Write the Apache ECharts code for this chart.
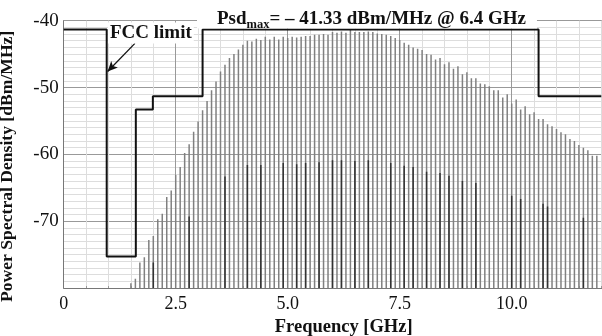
<!DOCTYPE html>
<html>
<head>
<meta charset="utf-8">
<script src="https://cdn.jsdelivr.net/npm/echarts@6/dist/echarts.min.js"></script>
<style>html,body{margin:0;padding:0;background:#fff}#c{width:602px;height:336px}</style>
</head>
<body>
<div id="c"></div>
<script>
// Spectral line frequencies [GHz]
const freqs = [1.5,1.6,1.7,1.8,1.9,2.0,2.1,2.2,2.3,2.4,2.5,2.6,2.7,2.8,2.9,3.0,3.1,3.2,3.3,3.4,3.5,3.6,3.7,3.8,3.9,
  4.0,4.1,4.2,4.3,4.4,4.5,4.6,4.7,4.8,4.9,5.0,5.1,5.2,5.3,5.4,5.5,5.6,5.7,5.8,5.9,6.0,6.1,6.2,6.3,6.4,6.5,6.6,6.7,6.8,6.9,
  7.0,7.1,7.2,7.3,7.4,7.5,7.6,7.7,7.8,7.9,8.0,8.1,8.2,8.3,8.4,8.5,8.6,8.7,8.8,8.9,9.0,9.1,9.2,9.3,9.4,9.5,9.6,9.7,9.8,9.9,
  10.0,10.1,10.2,10.3,10.4,10.5,10.6,10.7,10.8,10.9,11.0,11.1,11.2,11.3,11.4,11.5,11.6,11.7,11.8,11.9];
// PSD of main spectrum [dBm/MHz]
const psd = [-79.3,-78.6,-76.2,-75.4,-72.8,-72.2,-69.7,-68.9,-66.4,-65.4,-63.1,-61.9,-59.8,-58.5,-56.6,-55.1,-53.4,-52.0,-50.4,-49.1,-47.6,-46.6,-45.6,-45.0,-44.3,
  -43.6,-43.0,-43.1,-42.7,-42.9,-42.4,-42.8,-42.4,-42.8,-42.4,-42.6,-42.4,-42.5,-42.4,-42.3,-42.3,-42.1,-42.1,-42.0,-42.1,-41.7,-41.8,-41.6,-41.8,-41.33,-41.7,-41.7,-41.7,-41.6,-41.7,
  -41.9,-42.0,-42.1,-42.3,-42.6,-42.9,-43.3,-43.6,-44.0,-44.2,-44.4,-45.0,-45.1,-45.8,-45.6,-46.5,-46.2,-47.2,-46.8,-48.0,-47.7,-48.6,-48.6,-49.4,-49.5,-49.8,-50.4,-50.4,-51.5,-51.0,
  -52.4,-51.8,-53.3,-52.8,-54.0,-53.7,-54.7,-54.7,-55.5,-55.8,-56.2,-56.7,-57.0,-57.7,-58.0,-58.6,-59.0,-59.4,-60.2,-60.2];
// Second (darker) spectral lines
const freqs2 = [2.0,2.8,3.6,4.1,4.4,4.9,5.2,5.4,5.7,6.0,6.2,6.5,6.8,7.3,7.6,7.8,8.1,8.4,8.6,8.9,9.2,10.0,10.2,10.7,10.8,11.6];
const psd2 = [-76.2,-69.3,-63.3,-61.6,-61.6,-61.3,-61.5,-61.3,-61.2,-60.9,-60.9,-61.0,-60.9,-61.3,-61.7,-61.9,-62.6,-62.8,-63.2,-64.0,-64.3,-66.2,-66.7,-67.4,-67.8,-69.5];
// FCC mask
const fccEdges = [0, 0.96, 1.61, 1.99, 3.1, 10.6, 12];
const fccLevels = [-41.3, -75.3, -53.3, -51.3, -41.3, -51.3, -51.3];
// Axes
const yMin = -80, yMax = -40, yStep = 10;
const xMin = 0, xMax = 12.5, xStep = 2.5;
const xTickLabels = ['0', '2.5', '5.0', '7.5', '10.0'];

const FONT = '"Liberation Serif", "Times New Roman", serif';
const chart = echarts.init(document.getElementById('c'), null, {renderer: 'canvas'});

function stems(color, w) {
  return function (params, api) {
    const x = api.value(0), v = api.value(1);
    const p0 = api.coord([x, yMin]);
    const p1 = api.coord([x, v]);
    return {type: 'line', shape: {x1: p0[0], y1: p0[1], x2: p1[0], y2: p1[1]},
      style: {stroke: color, lineWidth: w}};
  };
}

chart.setOption({
  animation: false,
  grid: {left: 63.7, top: 20.7, right: -21.7, bottom: 48, containLabel: false, outerBoundsMode: 'none'},
  xAxis: {
    type: 'value', min: xMin, max: xMax, interval: xStep,
    name: 'Frequency [GHz]', nameLocation: 'middle', nameGap: 23,
    nameTextStyle: {fontFamily: FONT, fontWeight: 'bold', fontSize: 18.5, color: '#111'},
    axisLine: {show: true, lineStyle: {color: '#777', width: 1}},
    axisTick: {show: true, inside: true, length: 4, lineStyle: {color: '#777'}},
    minorTick: {show: true, splitNumber: 5, length: 2, lineStyle: {color: '#999'}},
    axisLabel: {fontFamily: FONT, fontSize: 18, color: '#111', margin: 7,
      formatter: function (v) { const i = Math.round(v / xStep); return (Math.abs(v - i * xStep) < 1e-6 && i < xTickLabels.length) ? xTickLabels[i] : ''; }},
    splitLine: {show: true, lineStyle: {color: '#999', width: 1}},
    minorSplitLine: {show: true, lineStyle: {color: '#ddd', width: 1}}
  },
  yAxis: {
    type: 'value', min: yMin, max: yMax, interval: yStep,
    name: 'Power Spectral Density [dBm/MHz]', nameLocation: 'middle', nameGap: 47,
    nameTextStyle: {fontFamily: FONT, fontWeight: 'bold', fontSize: 17.6, color: '#111', padding: [0, 24, 0, 0]},
    axisLine: {show: true, lineStyle: {color: '#777', width: 1}},
    axisTick: {show: false},
    minorTick: {show: false, splitNumber: 10},
    axisLabel: {fontFamily: FONT, fontSize: 19, color: '#111', margin: 5, showMinLabel: false, padding: [3, 0, 0, 0]},
    splitLine: {show: true, lineStyle: {color: '#999', width: 1}},
    minorSplitLine: {show: true, lineStyle: {color: '#ddd', width: 1}}
  },
  series: [
    {type: 'custom', renderItem: stems('#808080', 1.5), data: freqs.map((f, i) => [f, psd[i]]), z: 2, clip: true},
    {type: 'custom', renderItem: stems('#333333', 1.5), data: freqs2.map((f, i) => [f, psd2[i]]), z: 3, clip: true},
    {type: 'line', step: 'end', data: fccEdges.map((f, i) => [f, fccLevels[i]]), symbol: 'none',
      lineStyle: {color: '#111', width: 2}, z: 5,
      markLine: {silent: true, symbol: ['none', 'arrow'], symbolSize: [7, 10],
        lineStyle: {color: '#111', width: 1.3, type: 'solid'}, label: {show: false},
        data: [[{coord: [1.59, -43.4]}, {coord: [0.98, -47.6]}]]}}
  ],
  graphic: [
    {type: 'text', x: 108, y: 33, z: 10,
      style: {text: 'FCC limit', font: 'bold 19px ' + FONT, fill: '#111', verticalAlign: 'middle',
        backgroundColor: '#fff', padding: [1, 2, 1, 2]}},
    {type: 'text', x: 197, y: 19, z: 10,
      style: {text: '{b|Psd}{s|max}{b|= – 41.33 dBm/MHz @ 6.4 GHz}', verticalAlign: 'middle',
        backgroundColor: '#fff', padding: [0, 11, 0, 20],
        rich: {
          b: {fontFamily: FONT, fontWeight: 'bold', fontSize: 19, fill: '#111', color: '#111', lineHeight: 19, verticalAlign: 'bottom'},
          s: {fontFamily: FONT, fontWeight: 'bold', fontSize: 12.5, fill: '#111', color: '#111', lineHeight: 12, verticalAlign: 'bottom', padding: [0, 0, -3, 0]}
        }}}
  ]
});
</script>
</body>
</html>
